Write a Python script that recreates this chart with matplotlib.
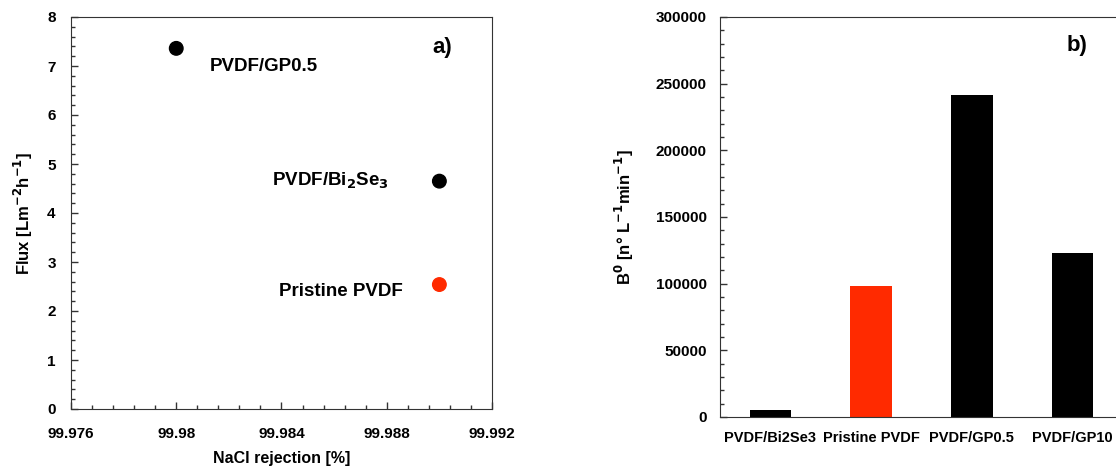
import matplotlib
matplotlib.use("Agg")
import matplotlib.pyplot as plt
from matplotlib.ticker import MultipleLocator, FixedLocator

plt.rcParams['font.family'] = ['Liberation Sans', 'DejaVu Sans']
plt.rcParams['font.weight'] = 'bold'

# Panel a data
membranes_a = ["PVDF/GP0.5", "PVDF/Bi$_2$Se$_3$", "Pristine PVDF"]
rejection = [99.980, 99.990, 99.990]
flux = [7.36, 4.65, 2.54]
point_colors = ["black", "black", "#ff2a00"]

# Panel b data
categories_b = ["PVDF/Bi2Se3", "Pristine PVDF", "PVDF/GP0.5", "PVDF/GP10"]
b0_values = [5000, 98500, 241500, 123000]
bar_colors = ["black", "#ff2a00", "black", "black"]

W, H = 1116, 466
fig = plt.figure(figsize=(W / 100, H / 100), dpi=100)

def box(l, t, r, b):
    return [l / W, 1 - b / H, (r - l) / W, (b - t) / H]

spine_col = "#333333"

# ---- Panel a ----
ax1 = fig.add_axes(box(71, 17, 492, 409))
ax1.scatter(rejection, flux, s=95, c=point_colors, zorder=3)
ax1.set_xlim(99.976, 99.992)
ax1.set_ylim(0, 8)
ax1.xaxis.set_major_locator(FixedLocator([99.976, 99.980, 99.984, 99.988, 99.992]))
ax1.set_xticklabels(["99.976", "99.98", "99.984", "99.988", "99.992"])
ax1.xaxis.set_minor_locator(MultipleLocator(0.0008))
ax1.yaxis.set_major_locator(MultipleLocator(1))
ax1.yaxis.set_minor_locator(MultipleLocator(0.2))
ax1.tick_params(which='both', direction='in', width=1, colors=spine_col, labelcolor='black',
                labelsize=11)
ax1.tick_params(which='major', length=5)
ax1.tick_params(which='minor', length=3)
ax1.tick_params(axis='x', pad=13)
ax1.tick_params(axis='y', pad=11)
for s in ax1.spines.values():
    s.set_color(spine_col)
ax1.set_xlabel("NaCl rejection [%]", fontsize=11.5, fontweight='bold', labelpad=7)
ax1.set_ylabel("Flux [Lm$^{\\mathbf{-2}}$h$^{\\mathbf{-1}}$]", fontsize=12, fontweight='bold', labelpad=9)

label_offsets = [(0.00126, -0.38, 'left'), (-0.0019, 0.0, 'right'), (-0.0014, -0.15, 'right')]
for name, x, y, (dx, dy, ha) in zip(membranes_a, rejection, flux, label_offsets):
    ax1.text(x + dx, y + dy, name, fontsize=13.5, fontweight='bold', ha=ha, va='center')
ax1.text(0.881, 0.923, "a)", transform=ax1.transAxes, fontsize=16, fontweight='bold',
         ha='center', va='center')

# ---- Panel b ----
ax2 = fig.add_axes(box(720, 17, 1123, 417))
xpos = list(range(len(categories_b)))
ax2.bar(xpos, b0_values, width=0.41, color=bar_colors)
ax2.set_xlim(-0.5, 3.5)
ax2.set_ylim(0, 300000)
ax2.set_xticks(xpos)
ax2.set_xticklabels(categories_b)
ax2.yaxis.set_major_locator(MultipleLocator(50000))
ax2.yaxis.set_minor_locator(MultipleLocator(10000))
ax2.tick_params(axis='y', which='both', direction='in', width=1, colors=spine_col,
                labelcolor='black', labelsize=11, pad=9.5)
ax2.tick_params(axis='y', which='major', length=5)
ax2.tick_params(axis='y', which='minor', length=3)
ax2.tick_params(axis='x', length=0, labelsize=10.5, pad=10)
for s in ax2.spines.values():
    s.set_color(spine_col)
ax2.set_ylabel("B$^{\\mathbf{0}}$ [n° L$^{\\mathbf{-1}}$min$^{\\mathbf{-1}}$]", fontsize=12,
               fontweight='bold', labelpad=14)
ax2.text(3.04, 279000, "b)", fontsize=16, fontweight='bold', ha='center', va='center')

fig.savefig("out.png", dpi=100)
